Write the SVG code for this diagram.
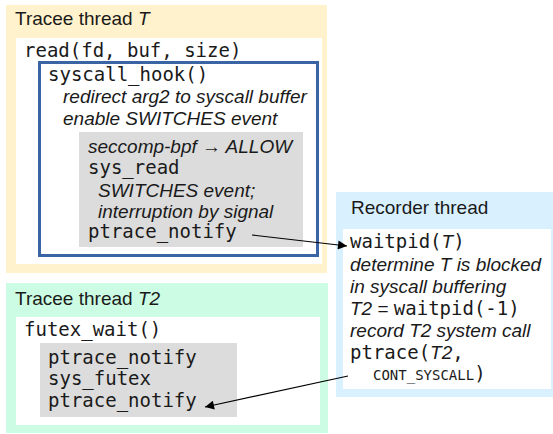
<svg xmlns="http://www.w3.org/2000/svg" width="553" height="434" viewBox="0 0 553 434">
<style>
text{font-family:"Liberation Sans",Arial,sans-serif;font-size:19px;fill:#1a1a1a}
.m{font-family:"DejaVu Sans Mono",monospace;font-size:19px}
.i{font-style:italic}
.s{font-size:14px}
.white{fill:#fff}
.gray{fill:#dcdcdc}
.conn{stroke:#000;stroke-width:1.2;fill:none;marker-end:url(#ah)}
</style>
<defs>
<marker id="ah" viewBox="0 0 10 10" refX="10" refY="5" markerWidth="13" markerHeight="9" markerUnits="userSpaceOnUse" orient="auto">
<path d="M0,0 L10,5 L0,10 z" fill="#000"/>
</marker>
</defs>
<g id="traceeT">
<rect x="6" y="5" width="321" height="268" fill="#fff2cc"/>
<text x="15" y="25">Tracee thread <tspan class="i">T</tspan></text>
<rect class="white" x="16" y="38" width="306" height="226"/>
<text class="m" x="24" y="57">read(fd, buf, size)</text>
</g>
<g id="syscallHook">
<rect x="39.5" y="62.5" width="278" height="193" fill="#fff" stroke="#3a64a4" stroke-width="3"/>
<text class="m" x="48" y="81">syscall_hook()</text>
<text class="i" x="63" y="103">redirect arg2 to syscall buffer</text>
<text class="i" x="63" y="125">enable SWITCHES event</text>
</g>
<g id="kernelT">
<rect class="gray" x="79" y="132" width="224" height="115"/>
<text class="i" x="88" y="153">seccomp-bpf → ALLOW</text>
<text class="m" x="88" y="174">sys_read</text>
<text class="i" x="98" y="197">SWITCHES event;</text>
<text class="i" x="98" y="218">interruption by signal</text>
<text class="m" x="88" y="238">ptrace_notify</text>
</g>
<g id="traceeT2">
<rect x="6" y="283" width="322" height="150" fill="#ccfde4"/>
<text x="15" y="305">Tracee thread <tspan class="i">T2</tspan></text>
<rect class="white" x="16" y="317" width="304" height="108"/>
<text class="m" x="24" y="336">futex_wait()</text>
<rect class="gray" x="40" y="343" width="197" height="74"/>
<text class="m" x="48" y="364">ptrace_notify</text>
<text class="m" x="48" y="385">sys_futex</text>
<text class="m" x="48" y="407">ptrace_notify</text>
</g>
<g id="recorder">
<rect x="336" y="192" width="217" height="205" fill="#d9f0ff"/>
<text x="351" y="214">Recorder thread</text>
<rect class="white" x="343" y="229" width="208" height="160"/>
<text x="350" y="248"><tspan class="m">waitpid(</tspan><tspan class="i">T</tspan><tspan class="m">)</tspan></text>
<text class="i" x="350" y="271">determine T is blocked</text>
<text class="i" x="350" y="293">in syscall buffering</text>
<text x="350" y="315"><tspan class="i">T2</tspan> = <tspan class="m">waitpid(-1)</tspan></text>
<text class="i" x="350" y="337">record T2 system call</text>
<text x="350" y="359"><tspan class="m">ptrace(</tspan><tspan class="i">T2</tspan><tspan class="m">,</tspan></text>
<text x="373" y="380"><tspan class="m s">CONT_SYSCALL</tspan><tspan class="m">)</tspan></text>
</g>
<g id="connectors">
<line class="conn" x1="252" y1="235" x2="347" y2="246"/>
<line class="conn" x1="348" y1="376" x2="205" y2="407"/>
</g>
</svg>
